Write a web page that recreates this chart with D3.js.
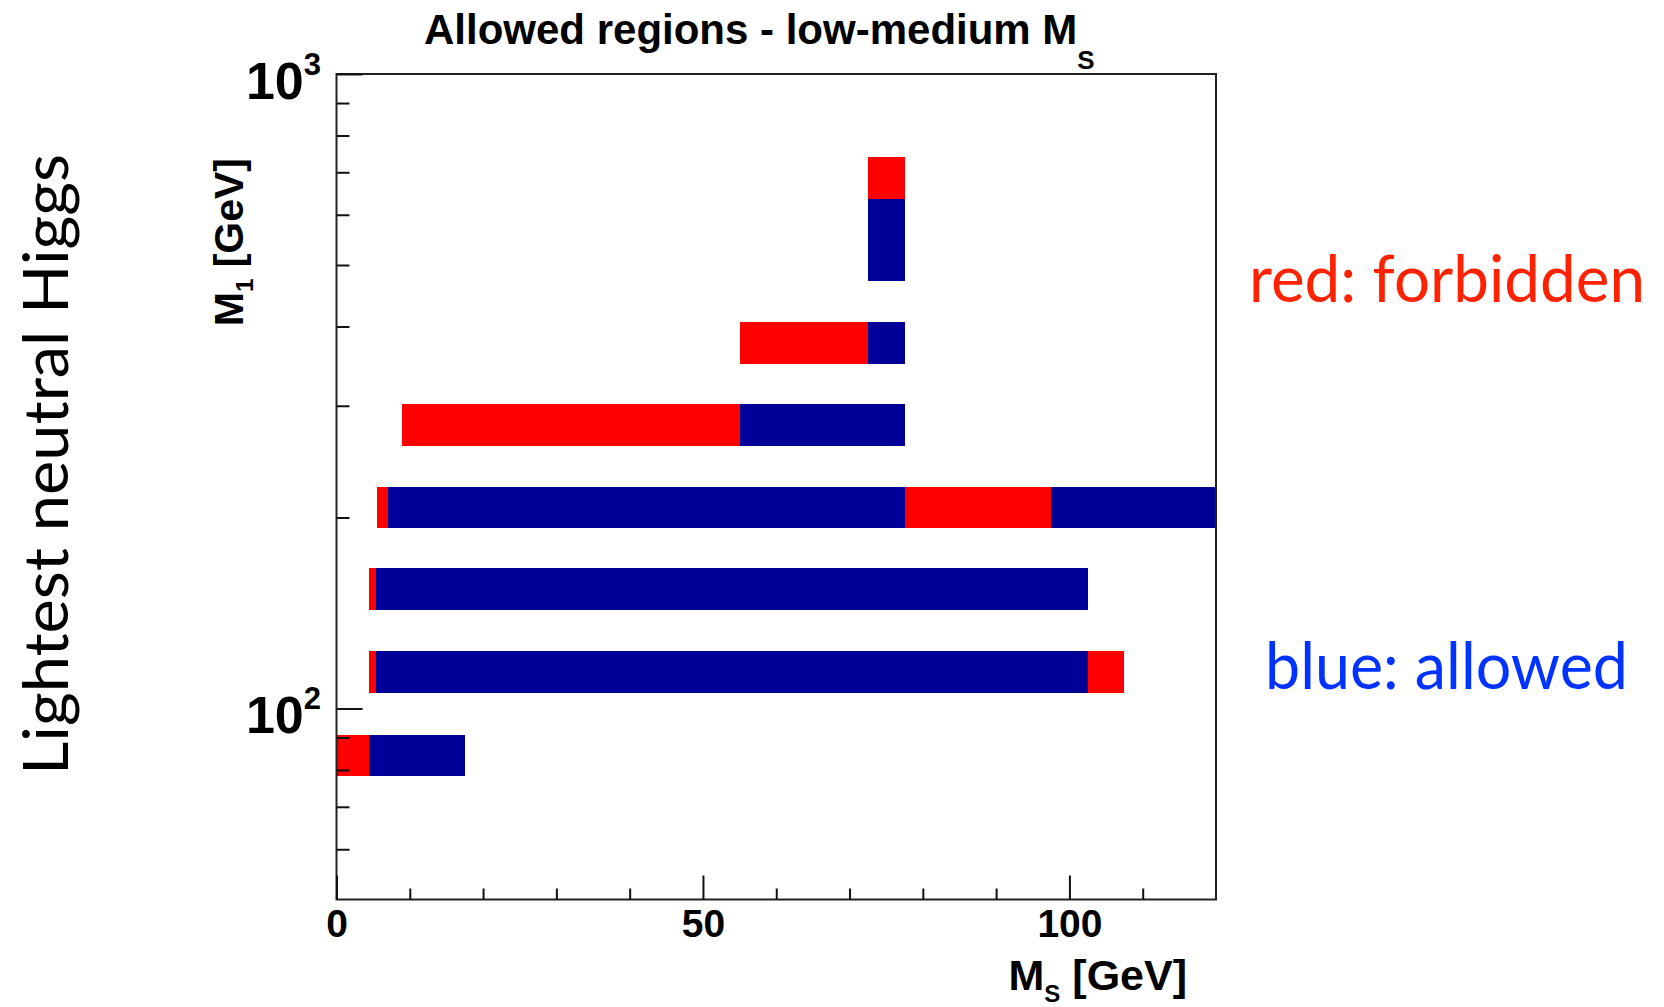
<!DOCTYPE html>
<html>
<head>
<meta charset="utf-8">
<script src="https://cdn.jsdelivr.net/npm/d3@7"></script>
<style>
  body { margin: 0; background: #fff; }
  svg { display: block; }
</style>
</head>
<body>
<div id="chart"></div>
<script>
// M1 bin edges (GeV) of the filled rows, bottom to top
const rowM1Low  = [78.2, 105.7, 142.8, 192.2, 259.7, 349.5, 472.4, 635.7];
const rowM1High = [90.9, 123.1, 166.3, 223.8, 302.4, 407.0, 635.7, 740.0];

// MS boundaries (GeV) along each row, and the state of each piece between them
const rowMsEdges = [
  [0, 4.4, 17.5],
  [4.4, 5.35, 102.5, 107.5],
  [4.4, 5.35, 102.5],
  [5.5, 7, 77.5, 97.5, 120],
  [9, 55, 77.5],
  [55, 72.5, 77.5],
  [72.5, 77.5],
  [72.5, 77.5]
];
const rowStates = [
  ["forbidden", "allowed"],
  ["forbidden", "allowed", "forbidden"],
  ["forbidden", "allowed"],
  ["forbidden", "allowed", "forbidden", "allowed"],
  ["forbidden", "allowed"],
  ["forbidden", "allowed"],
  ["allowed"],
  ["forbidden"]
];

const xMajorTicks = [0, 50, 100];
const yMajorTicks = [100, 1000];
const titleText = "Allowed regions - low-medium M";
const legendLabels = ["red: forbidden", "blue: allowed"];

const colors = { forbidden: "#ff0000", allowed: "#000099" };

const W = 1664, H = 1007;
const plot = { left: 336.5, right: 1216, top: 74, bottom: 899.5 };

const svg = d3.select("#chart").append("svg")
    .attr("width", W)
    .attr("height", H);

const x = d3.scaleLinear().domain([0, 120]).range([plot.left, plot.right]);
const y = d3.scaleLog().domain([50, 1000]).range([plot.bottom, plot.top]);

// bars
rowMsEdges.forEach((edges, i) => {
    rowStates[i].forEach((state, j) => {
        svg.append("rect")
            .attr("x", x(edges[j]))
            .attr("width", x(edges[j + 1]) - x(edges[j]))
            .attr("y", y(rowM1High[i]))
            .attr("height", y(rowM1Low[i]) - y(rowM1High[i]))
            .attr("fill", colors[state])
            .attr("shape-rendering", "crispEdges");
    });
});

// frame
svg.append("rect")
    .attr("x", plot.left)
    .attr("y", plot.top)
    .attr("width", plot.right - plot.left)
    .attr("height", plot.bottom - plot.top)
    .attr("fill", "none")
    .attr("stroke", "#222")
    .attr("stroke-width", 2);

const axisFont = g => g
    .style("font-family", "'Liberation Sans', Arial, sans-serif")
    .style("font-weight", "bold");

// x axis: minor then major ticks pointing inward
const xMinor = x.ticks(12).filter(v => !xMajorTicks.includes(v) && v < 120);
svg.append("g")
    .attr("transform", `translate(0,${plot.bottom})`)
    .call(d3.axisBottom(x).tickValues(xMinor).tickSize(-11).tickFormat(""))
    .call(g => g.select(".domain").remove())
    .selectAll("line").attr("stroke", "#111").attr("stroke-width", 2);

svg.append("g")
    .attr("transform", `translate(0,${plot.bottom})`)
    .call(d3.axisBottom(x).tickValues(xMajorTicks).tickSize(-24).tickPadding(10))
    .call(g => g.select(".domain").remove())
    .call(axisFont)
    .call(g => g.selectAll("line").attr("stroke", "#111").attr("stroke-width", 2))
    .selectAll("text")
    .style("font-size", "39px")
    .attr("fill", "#000");

// y axis (log)
const yMinor = y.ticks().filter(v => v > 50 && !yMajorTicks.includes(v));
svg.append("g")
    .attr("transform", `translate(${plot.left},0)`)
    .call(d3.axisLeft(y).tickValues(yMinor).tickSize(-13).tickFormat(""))
    .call(g => g.select(".domain").remove())
    .selectAll("line").attr("stroke", "#111").attr("stroke-width", 2);

svg.append("g")
    .attr("transform", `translate(${plot.left},0)`)
    .call(d3.axisLeft(y).tickValues(yMajorTicks).tickSize(-26).tickFormat(""))
    .call(g => g.select(".domain").remove())
    .selectAll("line").attr("stroke", "#111").attr("stroke-width", 2);

yMajorTicks.forEach(v => {
    const t = svg.append("text")
        .attr("x", 321)
        .attr("y", y(v) + 25)
        .attr("text-anchor", "end")
        .call(axisFont)
        .style("font-size", "52px");
    t.append("tspan").text("10");
    t.append("tspan")
        .attr("dy", -24)
        .style("font-size", "31px")
        .text(Math.round(Math.log10(v)));
});

// title
const title = svg.append("text")
    .attr("x", 424)
    .attr("y", 44)
    .call(axisFont)
    .style("font-size", "42px");
title.append("tspan").text(titleText);
title.append("tspan").attr("dy", 25).style("font-size", "26px").text("S");

// x axis title
const xTitle = svg.append("text")
    .attr("x", 1187)
    .attr("y", 990)
    .attr("text-anchor", "end")
    .call(axisFont)
    .style("font-size", "43px");
xTitle.append("tspan").text("M");
xTitle.append("tspan").attr("dy", 12).style("font-size", "24px").text("S");
xTitle.append("tspan").attr("dy", -12).text(" [GeV]");

// y axis title
const yTitle = svg.append("text")
    .attr("transform", "translate(243,158) rotate(-90)")
    .attr("text-anchor", "end")
    .call(axisFont)
    .style("font-size", "41px");
yTitle.append("tspan").text("M");
yTitle.append("tspan").attr("dy", 10).style("font-size", "24px").text("1");
yTitle.append("tspan").attr("dy", -10).text(" [GeV]");

// side annotations
svg.append("text")
    .attr("transform", "translate(68,464.5) rotate(-90)")
    .attr("text-anchor", "middle")
    .attr("textLength", 621)
    .attr("lengthAdjust", "spacingAndGlyphs")
    .style("font-family", "Lato, 'Open Sans', sans-serif")
    .style("font-size", "61px")
    .attr("fill", "#000")
    .text("Lightest neutral Higgs");

svg.append("text")
    .attr("x", 1249)
    .attr("y", 302)
    .attr("textLength", 396)
    .attr("lengthAdjust", "spacingAndGlyphs")
    .style("font-family", "Lato, 'Open Sans', sans-serif")
    .style("font-size", "65px")
    .attr("fill", "#ff2200")
    .text(legendLabels[0]);

svg.append("text")
    .attr("x", 1265)
    .attr("y", 689)
    .attr("textLength", 363)
    .attr("lengthAdjust", "spacingAndGlyphs")
    .style("font-family", "Lato, 'Open Sans', sans-serif")
    .style("font-size", "65px")
    .attr("fill", "#0033ff")
    .text(legendLabels[1]);
</script>
</body>
</html>
